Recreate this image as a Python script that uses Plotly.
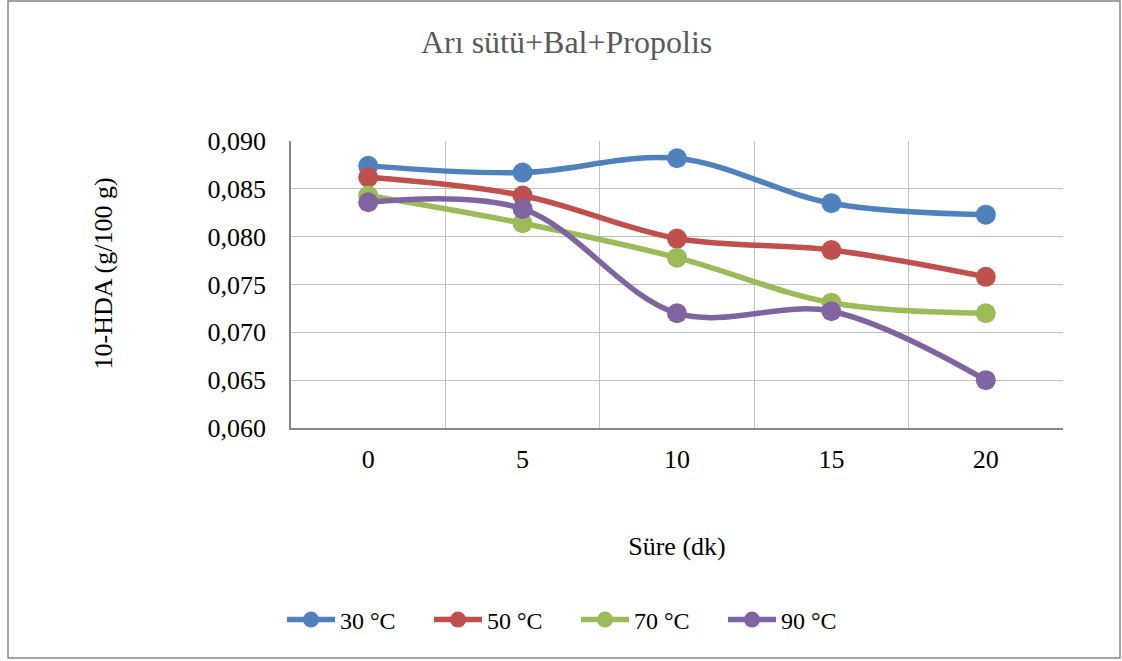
import plotly.graph_objects as go

categories = ["0", "5", "10", "15", "20"]
series_names = ["30 °C", "50 °C", "70 °C", "90 °C"]
s30 = [0.0874, 0.0867, 0.0882, 0.0835, 0.0823]
s50 = [0.0862, 0.0843, 0.0798, 0.0786, 0.0758]
s70 = [0.0843, 0.0814, 0.0778, 0.0731, 0.0720]
s90 = [0.0836, 0.0829, 0.0720, 0.0722, 0.0650]
colors = ["#4F81BD", "#C0504D", "#9BBB59", "#8064A2"]

FONT = "Liberation Serif, Times New Roman, serif"

fig = go.Figure()
for name, vals, col in zip(series_names, [s30, s50, s70, s90], colors):
    fig.add_trace(go.Scatter(
        x=categories, y=vals, name=name, mode="lines+markers",
        line=dict(color=col, width=5.5, shape="spline", smoothing=1.0),
        marker=dict(color=col, size=20),
    ))

W, H = 1122, 661
L, R, T, B = 291, 1063, 141, 428

fig.update_layout(
    width=W, height=H,
    margin=dict(l=L, r=W - R, t=T, b=H - B),
    paper_bgcolor="white", plot_bgcolor="white",
    font=dict(family=FONT, size=26, color="#000000"),
    separators=",.",
    title=dict(text="Arı sütü+Bal+Propolis", x=0.505, xref="container",
               y=1 - 42 / H, yref="container", yanchor="middle", xanchor="center",
               font=dict(family=FONT, size=32, color="#595959")),
    xaxis=dict(type="category", tickson="boundaries", showgrid=True,
               range=[-0.5, 4.5],
               gridcolor="#BFBFBF", gridwidth=1.3, showline=True,
               linecolor="#868686", linewidth=1.5, ticks="", ticklabelstandoff=7,
               mirror=False, zeroline=False,
               title=dict(text="Süre (dk)", standoff=64, font=dict(size=26))),
    yaxis=dict(range=[0.060, 0.090], dtick=0.005, tick0=0.060, tickformat=".3f",
               showgrid=True, gridcolor="#BFBFBF", gridwidth=1.3,
               showline=True, linecolor="#868686", linewidth=1.5,
               ticks="", ticklabelstandoff=18, zeroline=False),
    legend=dict(orientation="h", xref="container", x=576 / W, xanchor="center",
                yref="container", y=1 - 620 / H, yanchor="middle",
                font=dict(size=24), entrywidth=84, entrywidthmode="pixels",
                itemwidth=48),
    showlegend=True,
)

fig.add_annotation(text="10-HDA (g/100 g)", textangle=-90, showarrow=False,
                   xref="paper", yref="paper",
                   x=(103 - L) / (R - L), y=(B - 273.5) / (B - T),
                   xanchor="center", yanchor="middle",
                   font=dict(family=FONT, size=26, color="#000000"))

# outer chart border
fig.add_shape(type="rect", xref="paper", yref="paper",
              x0=(8 - L) / (R - L), x1=(1120 - L) / (R - L),
              y0=(B - 658) / (B - T), y1=(B - 1) / (B - T),
              line=dict(color="#868686", width=1.5), fillcolor="rgba(0,0,0,0)",
              layer="below")

fig.write_html("out.html")
